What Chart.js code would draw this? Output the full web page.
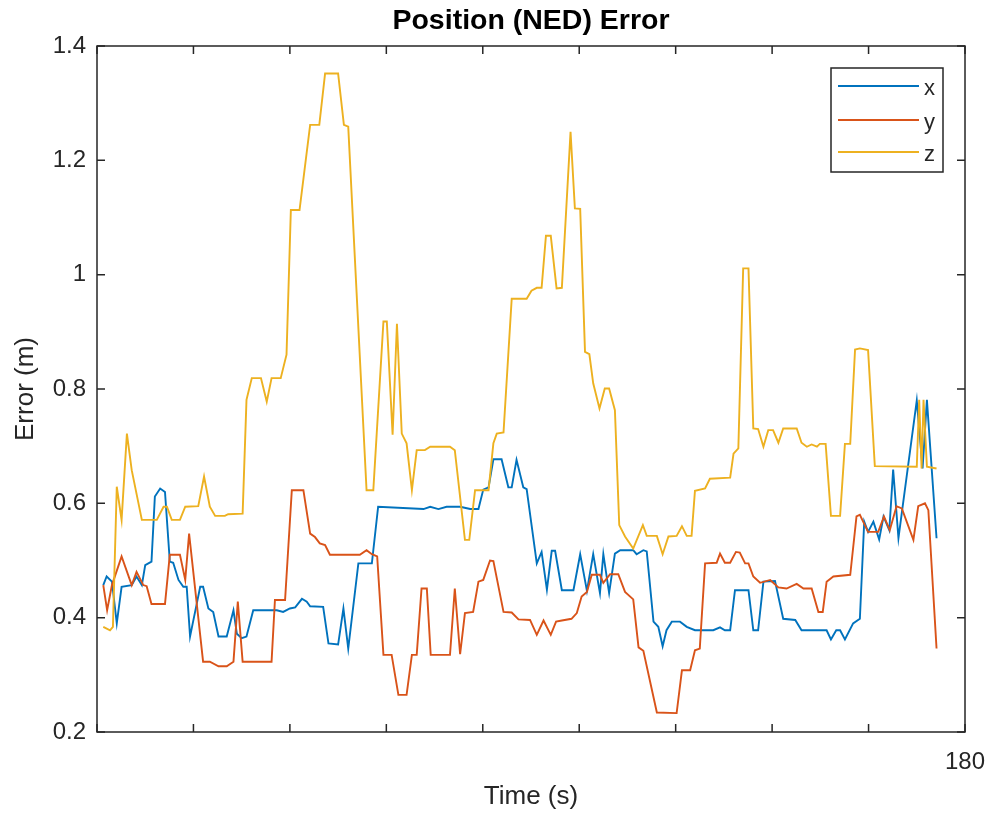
<!DOCTYPE html>
<html><head><meta charset="utf-8">
<script src="https://cdn.jsdelivr.net/npm/chart.js@4"></script>
<style>html,body{margin:0;padding:0;background:#fff}</style>
</head><body>
<canvas id="c" width="990" height="817"></canvas>
<script>
// ---- data (time in s, error in m) ----
const xTime = [1.3,2.0,3.1,4.1,5.1,7.2,8.2,9.3,10.0,11.3,12.0,13.1,14.1,15.1,15.8,16.9,17.9,18.6,19.3,20.7,21.4,22.0,23.1,24.1,25.2,26.9,28.3,29.0,30.0,31.0,32.4,35.9,37.3,38.6,40.0,41.1,42.5,43.5,44.2,46.9,48.0,50.0,51.1,52.1,54.2,57.0,58.3,67.7,69.1,70.8,72.5,75.3,77.4,79.1,80.1,81.2,82.2,83.9,85.3,86.0,87.0,88.4,89.1,91.2,92.2,93.3,94.3,95.0,96.4,98.8,100.2,101.6,102.9,104.3,105.0,106.2,107.4,108.5,111.2,111.9,113.3,114.0,115.4,116.4,117.3,118.1,119.2,120.9,122.3,124.0,127.8,129.2,130.2,131.3,132.3,135.1,136.1,137.1,138.2,140.6,142.3,144.8,146.1,151.3,152.2,153.3,154.1,155.1,156.8,158.2,159.1,159.9,161.0,162.2,163.1,164.3,165.1,166.2,170.0,171.2,172.1,174.1];
const xErr = [0.457,0.472,0.463,0.390,0.454,0.457,0.472,0.457,0.492,0.498,0.612,0.626,0.620,0.498,0.496,0.466,0.454,0.454,0.367,0.425,0.454,0.454,0.416,0.410,0.367,0.367,0.413,0.372,0.364,0.367,0.413,0.413,0.413,0.410,0.416,0.418,0.433,0.428,0.420,0.419,0.355,0.353,0.416,0.346,0.495,0.495,0.594,0.590,0.594,0.590,0.594,0.594,0.590,0.590,0.624,0.628,0.677,0.677,0.628,0.628,0.676,0.628,0.625,0.495,0.515,0.449,0.517,0.517,0.448,0.448,0.511,0.447,0.511,0.443,0.511,0.443,0.512,0.518,0.518,0.511,0.518,0.516,0.393,0.384,0.350,0.378,0.393,0.393,0.384,0.378,0.378,0.383,0.378,0.378,0.448,0.448,0.378,0.378,0.463,0.464,0.398,0.396,0.378,0.378,0.362,0.378,0.378,0.362,0.390,0.398,0.568,0.550,0.568,0.537,0.577,0.553,0.659,0.539,0.780,0.661,0.781,0.539];

const yTime = [1.3,2.1,3.1,5.1,7.2,8.2,9.6,10.3,11.3,14.1,15.1,17.2,18.3,19.1,22.0,23.4,25.2,26.9,28.3,29.2,30.2,36.2,36.9,39.0,40.4,42.8,44.2,45.2,46.2,47.3,48.3,54.5,55.9,57.0,58.1,59.4,61.1,62.5,64.2,65.3,66.3,67.3,68.4,69.2,73.2,74.2,75.3,76.3,78.0,79.1,80.1,81.5,82.2,84.3,86.0,87.4,89.8,91.2,92.6,94.1,95.2,96.4,98.4,99.5,100.5,101.6,102.6,104.3,105.0,106.4,108.1,109.5,111.2,112.3,113.3,116.1,120.2,121.3,123.0,124.0,125.0,126.1,128.5,129.2,130.2,131.3,132.5,133.3,134.4,135.1,136.1,137.5,139.6,141.3,143.0,145.1,146.5,148.2,149.6,150.5,151.3,152.7,156.2,157.5,158.2,159.9,162.0,163.2,164.4,165.8,166.9,169.3,170.3,171.7,172.4,174.1];
const yErr = [0.457,0.413,0.457,0.507,0.457,0.480,0.457,0.455,0.424,0.424,0.510,0.510,0.466,0.547,0.323,0.323,0.315,0.315,0.323,0.428,0.323,0.323,0.431,0.431,0.623,0.623,0.547,0.541,0.530,0.527,0.510,0.510,0.518,0.511,0.507,0.335,0.335,0.265,0.265,0.335,0.335,0.451,0.451,0.335,0.335,0.451,0.336,0.408,0.410,0.463,0.466,0.500,0.499,0.410,0.409,0.397,0.396,0.370,0.395,0.370,0.393,0.395,0.398,0.408,0.437,0.445,0.475,0.475,0.461,0.476,0.476,0.445,0.432,0.348,0.342,0.234,0.233,0.308,0.308,0.343,0.346,0.495,0.496,0.512,0.496,0.496,0.515,0.514,0.495,0.495,0.472,0.461,0.466,0.453,0.451,0.459,0.451,0.451,0.410,0.410,0.463,0.472,0.475,0.577,0.580,0.550,0.550,0.577,0.553,0.595,0.591,0.536,0.595,0.600,0.588,0.346];

const zTime = [1.3,2.7,3.3,4.1,5.1,6.2,7.2,9.3,12.4,13.8,14.5,15.5,17.2,18.3,21.0,22.2,23.4,24.5,26.5,27.2,30.2,31.0,32.1,34.0,35.2,36.2,38.1,39.3,40.2,42.0,44.2,46.1,47.3,50.0,51.2,52.1,55.9,57.3,59.4,60.1,61.3,62.2,63.2,64.2,65.3,66.3,68.0,69.1,73.2,74.2,76.3,77.2,78.4,81.2,82.2,82.9,84.3,86.0,89.1,90.1,91.2,92.2,93.1,94.1,95.3,96.4,98.2,99.1,100.2,101.2,102.1,102.9,104.2,105.3,106.2,107.4,108.3,109.5,111.2,113.2,114.0,116.1,117.3,118.5,120.2,121.3,122.3,123.3,124.0,126.1,127.1,131.3,132.0,133.0,134.0,135.1,136.1,137.1,138.2,139.2,140.2,141.3,142.3,145.1,146.1,147.2,148.2,149.3,149.9,151.1,152.2,154.1,155.1,156.2,157.2,158.2,159.9,161.3,170.0,170.5,171.0,171.4,172.1,174.1];
const zErr = [0.384,0.378,0.384,0.629,0.571,0.722,0.658,0.571,0.571,0.594,0.594,0.571,0.571,0.594,0.595,0.647,0.594,0.578,0.578,0.581,0.582,0.781,0.819,0.819,0.778,0.819,0.819,0.860,1.113,1.113,1.262,1.262,1.352,1.352,1.262,1.259,0.623,0.623,0.918,0.918,0.720,0.914,0.722,0.705,0.623,0.693,0.693,0.699,0.699,0.693,0.536,0.536,0.623,0.623,0.705,0.722,0.724,0.958,0.958,0.972,0.977,0.977,1.068,1.068,0.976,0.977,1.250,1.116,1.115,0.865,0.861,0.810,0.766,0.801,0.801,0.763,0.562,0.542,0.521,0.562,0.543,0.543,0.511,0.542,0.543,0.560,0.543,0.543,0.622,0.626,0.643,0.645,0.687,0.696,1.011,1.011,0.731,0.730,0.699,0.728,0.728,0.706,0.731,0.731,0.706,0.699,0.703,0.699,0.704,0.704,0.578,0.578,0.704,0.704,0.869,0.871,0.868,0.665,0.664,0.781,0.661,0.781,0.664,0.661];

const seriesNames = ['x','y','z'];
const xTicks = [0,20,40,60,80,100,120,140,160,180];
const xTickLabels = ['','','','','','','','','','180'];
const yTicks = [0.2,0.4,0.6,0.8,1.0,1.2,1.4];
const yTickLabels = ['0.2','0.4','0.6','0.8','1','1.2','1.4'];

// ---- build ----
const FONT = "'Liberation Sans', Arial, Helvetica, sans-serif";
const AX = '#262626';
const colors = ['#0072BD','#D95319','#EDB120'];
const toPts = (t, v) => t.map((tt, i) => ({x: tt, y: v[i]}));
const all = [[xTime,xErr],[yTime,yErr],[zTime,zErr]];

const datasets = all.map((s, i) => ({
  label: seriesNames[i],
  data: toPts(s[0], s[1]),
  borderColor: colors[i],
  backgroundColor: colors[i],
  borderWidth: 1.9,
  pointRadius: 0,
  tension: 0,
  fill: false,
  order: 2 - i
}));

const boxPlugin = {
  id: 'matlabBox',
  afterDraw(chart) {
    const {ctx, chartArea: a, scales} = chart;
    ctx.save();
    ctx.strokeStyle = AX;
    ctx.lineWidth = 1.5;
    ctx.strokeRect(a.left, a.top, a.right - a.left, a.bottom - a.top);
    const tl = 8;
    ctx.beginPath();
    scales.x.ticks.forEach(t => {
      const px = scales.x.getPixelForValue(t.value);
      ctx.moveTo(px, a.bottom); ctx.lineTo(px, a.bottom - tl);
      ctx.moveTo(px, a.top); ctx.lineTo(px, a.top + tl);
    });
    scales.y.ticks.forEach(t => {
      const py = scales.y.getPixelForValue(t.value);
      ctx.moveTo(a.left, py); ctx.lineTo(a.left + tl, py);
      ctx.moveTo(a.right, py); ctx.lineTo(a.right - tl, py);
    });
    ctx.stroke();

    // legend
    const bw = 112, bh = 104;
    const bx = a.right - 22 - bw, by = a.top + 22;
    ctx.fillStyle = '#fff';
    ctx.fillRect(bx, by, bw, bh);
    ctx.lineWidth = 1.5;
    ctx.strokeStyle = AX;
    ctx.strokeRect(bx, by, bw, bh);
    const rows = [18, 52, 84];
    chart.data.datasets.forEach((ds, i) => {
      const y = by + rows[i];
      ctx.strokeStyle = ds.borderColor;
      ctx.lineWidth = 1.9;
      ctx.beginPath();
      ctx.moveTo(bx + 7, y); ctx.lineTo(bx + 88, y);
      ctx.stroke();
      ctx.fillStyle = AX;
      ctx.font = '22px ' + FONT;
      ctx.textAlign = 'left';
      ctx.textBaseline = 'middle';
      ctx.fillText(ds.label, bx + 93, y + 3);
    });
    ctx.restore();
  }
};

new Chart(document.getElementById('c'), {
  type: 'line',
  data: {datasets},
  options: {
    responsive: false,
    animation: false,
    devicePixelRatio: 1,
    layout: {padding: {top: 0, left: 0, right: 25, bottom: 0}},
    plugins: {
      legend: {display: false},
      tooltip: {enabled: false},
      title: {
        display: true, fullSize: false, text: 'Position (NED) Error', color: '#000',
        font: {family: FONT, size: 28.5, weight: 'bold', lineHeight: 1.2},
        padding: {top: 4, bottom: 7.8}
      }
    },
    scales: {
      x: {
        type: 'linear', min: 0, max: 180,
        grid: {display: false, drawTicks: false},
        border: {display: false},
        afterBuildTicks: s => { s.ticks = xTicks.map(v => ({value: v})); },
        afterFit: s => { s.height = 85; s.paddingLeft = 0; s.paddingRight = 0; },
        ticks: {
          autoSkip: false, maxRotation: 0, minRotation: 0, padding: 16, color: AX,
          font: {family: FONT, size: 24, lineHeight: 1.2},
          callback: (v, i) => xTickLabels[i]
        },
        title: {
          display: true, text: 'Time (s)', color: AX,
          font: {family: FONT, size: 26, lineHeight: 1.2},
          padding: {top: 0, bottom: 4.4}
        }
      },
      y: {
        type: 'linear', min: 0.2, max: 1.4,
        grid: {display: false, drawTicks: false},
        border: {display: false},
        afterBuildTicks: s => { s.ticks = yTicks.map(v => ({value: v})); },
        afterFit: s => { s.width = 97; s.paddingTop = 0; s.paddingBottom = 0; },
        ticks: {
          padding: 11, color: AX,
          font: {family: FONT, size: 24, lineHeight: 1.2},
          callback: (v, i) => yTickLabels[i]
        },
        title: {
          display: true, text: 'Error (m)', color: AX,
          font: {family: FONT, size: 26, lineHeight: 1.2},
          padding: {top: 10.4, bottom: 0}
        }
      }
    }
  },
  plugins: [boxPlugin]
});
</script>
</body></html>
